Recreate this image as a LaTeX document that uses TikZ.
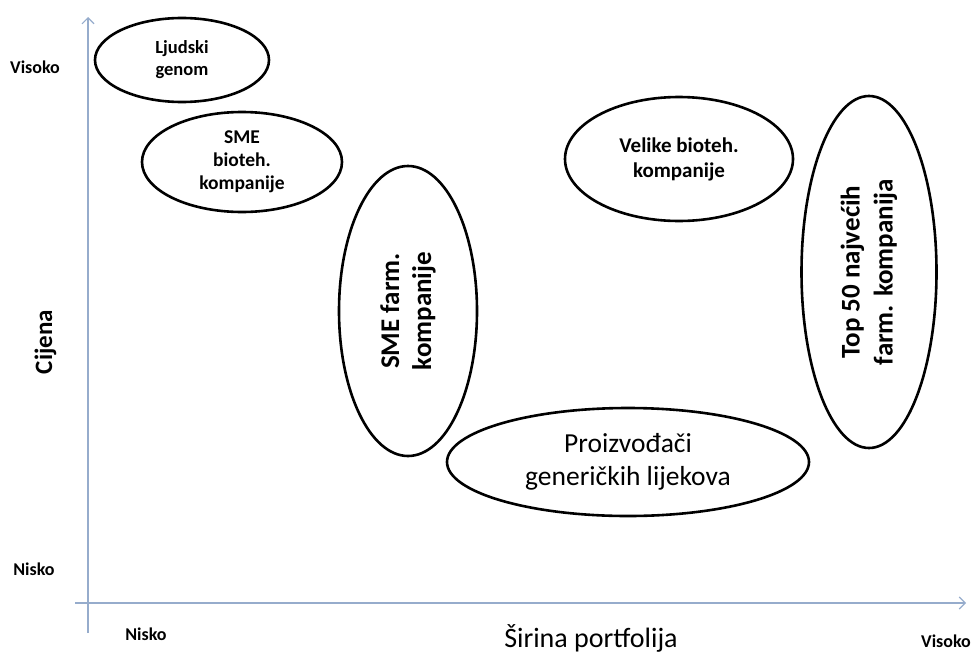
\documentclass[tikz,border=0pt]{standalone}
\usepackage{fontspec}
\setmainfont{Carlito}
\usetikzlibrary{shapes.geometric,arrows.meta}
\tikzset{%
  blob/.style={ellipse,draw=black,line width=2.6pt,inner sep=0pt,align=center},
  axis/.style={draw=axblue,line width=1.4pt,-{Straight Barb[length=6pt,width=12pt,line width=1.1pt]}},
  tick/.style={font=\bfseries\fontsize{18}{22}\selectfont,anchor=base}
}
\definecolor{axblue}{RGB}{150,172,204}
\newcommand{\fsz}[2]{\fontsize{#1}{#2}\selectfont}

\begin{document}
\begin{tikzpicture}[x=1pt,y=-1pt]
  \useasboundingbox (0,0) rectangle (976,653);
  \coordinate (xa) at (75,603);
  \coordinate (xb) at (966,603);
  \coordinate (ya) at (88,633);
  \coordinate (yb) at (88,17);
  \draw[axis] (xa) -- (xb);
  \draw[axis] (ya) -- (yb);
  %%%
  \node[blob,minimum width=174pt,minimum height=84pt,font=\bfseries\fsz{18.5}{22}] (e0) at (182,60) {Ljudski\\genom};
  \node[blob,minimum width=200pt,minimum height=100pt,font=\bfseries\fsz{19.5}{23}] (e1) at (242,162) {SME\\bioteh.\\kompanije};
  \node[blob,rotate=90,minimum width=290pt,minimum height=138pt,font=\bfseries\fsz{27}{32}] (e2) at (408,311) {SME farm.\\kompanije};
  \node[blob,minimum width=228pt,minimum height=124pt,font=\bfseries\fsz{21}{25}] (e3) at (679,159) {Velike bioteh.\\kompanije};
  \node[blob,rotate=90,minimum width=352pt,minimum height=135pt,font=\bfseries\fsz{27}{33}] (e4) at (869,272) {Top 50 najvećih\\farm. kompanija};
  \node[blob,minimum width=362pt,minimum height=108pt,font=\fsz{27.5}{33}] (e5) at (628,462) {Proizvođači\\generičkih lijekova};
  %%%
  \node[tick] (yhi) at (35,73) {Visoko};
  \node[tick] (ylo) at (34,575) {Nisko};
  \node[tick] (xlo) at (146,640) {Nisko};
  \node[tick] (xhi) at (946,647) {Visoko};
  \node[tick,rotate=90,font=\bfseries\fsz{25}{30}] (ytl) at (52,342) {Cijena};
  \node[anchor=base,font=\fsz{28}{33}] (xtl) at (591,647) {Širina portfolija};
\end{tikzpicture}
\end{document}
